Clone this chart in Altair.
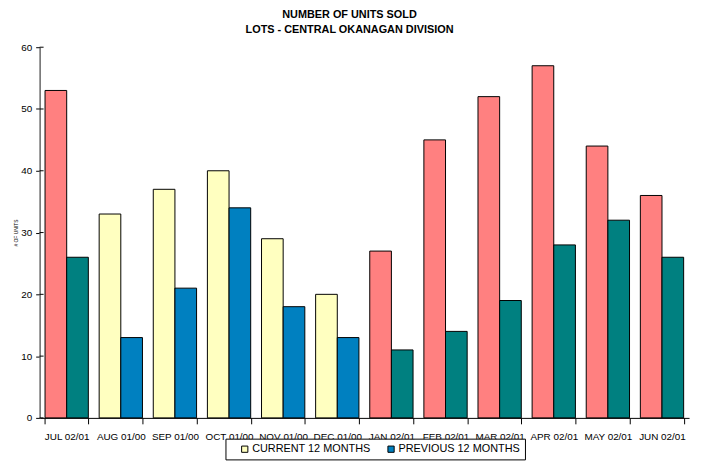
import altair as alt
import pandas as pd

months = ["JUL 02/01", "AUG 01/00", "SEP 01/00", "OCT 01/00", "NOV 01/00", "DEC 01/00",
          "JAN 02/01", "FEB 02/01", "MAR 02/01", "APR 02/01", "MAY 02/01", "JUN 02/01"]
current = [53, 33, 37, 40, 29, 20, 27, 45, 52, 57, 44, 36]
previous = [26, 13, 21, 34, 18, 13, 11, 14, 19, 28, 32, 26]
y_ticks = [0, 10, 20, 30, 40, 50, 60]

legend_keys = ["CURRENT 12 MONTHS", "PREVIOUS 12 MONTHS"]
color_keys = ["CURRENT 12 MONTHS", "PREVIOUS 12 MONTHS", "CURRENT 02/01", "PREVIOUS 02/01"]
color_range = ["#FFFFC0", "#0080C0", "#FF8080", "#008080"]

rows = []
for m, c, p in zip(months, current, previous):
    new = m.endswith("02/01")
    rows.append({"month": m, "series": "CURRENT", "units": c,
                 "key": "CURRENT 02/01" if new else "CURRENT 12 MONTHS"})
    rows.append({"month": m, "series": "PREVIOUS", "units": p,
                 "key": "PREVIOUS 02/01" if new else "PREVIOUS 12 MONTHS"})
df = pd.DataFrame(rows)
tick_df = pd.DataFrame({"v": y_ticks})

FONT = "Liberation Sans"

bars = alt.Chart(df).mark_bar(stroke="black", strokeWidth=1).encode(
    x=alt.X("month:N", sort=months,
            scale=alt.Scale(paddingInner=0.2, paddingOuter=0.1),
            axis=alt.Axis(title=None, labelAngle=0, tickBand="extent", tickSize=6,
                          labelPadding=8, labelFontSize=10, labelFont=FONT,
                          labelColor="black", domainColor="black", tickColor="black")),
    xOffset=alt.XOffset("series:N", sort=["CURRENT", "PREVIOUS"]),
    y=alt.Y("units:Q", scale=alt.Scale(domain=[0, 60], nice=False),
            axis=alt.Axis(values=y_ticks, title="# OF UNITS", titleFontSize=5,
                          titleFont=FONT, titleFontWeight="normal", titlePadding=2,
                          tickSize=4, labelPadding=4, labelFontSize=10, labelFont=FONT,
                          labelColor="black", domainColor="#666666", domainWidth=1.5,
                          tickColor="black", grid=False)),
    color=alt.Color("key:N",
                    scale=alt.Scale(domain=color_keys, range=color_range),
                    legend=alt.Legend(values=legend_keys, title=None, orient="none",
                                      legendX=188, legendY=396, direction="horizontal",
                                      strokeColor="black", padding=5, fillColor="white",
                                      symbolType="square", symbolSize=40,
                                      symbolOffset=9,
                                      symbolStrokeColor="black", symbolStrokeWidth=1,
                                      labelFontSize=11, labelFont=FONT, labelColor="black",
                                      labelOffset=2, columnPadding=6)),
)

inner_ticks = alt.Chart(tick_df).mark_rule(color="black", strokeWidth=1).encode(
    y=alt.Y("v:Q", scale=alt.Scale(domain=[0, 60], nice=False)),
    x=alt.value(0),
    x2=alt.value(4),
)

chart = alt.layer(bars, inner_ticks).properties(
    width=657,
    height=375,
    padding={"left": 32, "top": 37, "right": 5, "bottom": 46},
    autosize=alt.AutoSizeParams(type="none"),
    title=alt.TitleParams(["NUMBER OF UNITS SOLD", "LOTS - CENTRAL OKANAGAN DIVISION"],
                          font=FONT, fontSize=11,
                          fontWeight="bold", anchor="middle", dx=-15, lineHeight=15.5,
                          offset=7, color="black"),
).configure_view(stroke=None)

chart.save("out.html", embed_options={"renderer": "svg", "actions": False})
